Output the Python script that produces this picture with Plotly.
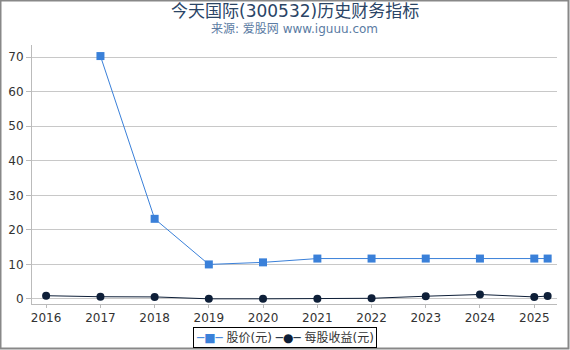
import plotly.graph_objects as go

dates_price = ["2017-01-01", "2018-01-01", "2019-01-01", "2020-01-01", "2021-01-01",
               "2022-01-01", "2023-01-01", "2024-01-01", "2025-01-01", "2025-04-01"]
price = [70.3, 23.2, 10.0, 10.6, 11.7, 11.7, 11.7, 11.7, 11.7, 11.7]

dates_eps = ["2016-01-01", "2017-01-01", "2018-01-01", "2019-01-01", "2020-01-01", "2021-01-01",
             "2022-01-01", "2023-01-01", "2024-01-01", "2025-01-01", "2025-04-01"]
eps = [0.95, 0.65, 0.6, 0.05, 0.05, 0.1, 0.2, 0.8, 1.3, 0.6, 0.85]

series_names = ["股价(元)", "每股收益(元)"]
series_colors = ["#3a80d9", "#0e1f38"]

font = "DejaVu Sans, Noto Sans CJK SC, sans-serif"

fig = go.Figure()
fig.add_trace(go.Scatter(x=dates_price, y=price, name=series_names[0], mode="lines+markers",
                         line=dict(color=series_colors[0], width=1),
                         marker=dict(symbol="square", size=8, color=series_colors[0])))
fig.add_trace(go.Scatter(x=dates_eps, y=eps, name=series_names[1], mode="lines+markers",
                         line=dict(color=series_colors[1], width=1),
                         marker=dict(symbol="circle", size=8, color=series_colors[1])))

W, H = 570, 350
l, r, t, b = 32, 13, 45, 46
pw, ph = W - l - r, H - t - b
y0px = H - b  # pixel row of paper y=0

def py(px):
    return (y0px - px) / ph

legend_text = (f"<span style='color:{series_colors[0]}'>─■─</span> {series_names[0]} "
               f"<span style='color:{series_colors[1]}'>─●─</span> {series_names[1]}")

fig.update_layout(
    width=W, height=H,
    margin=dict(l=l, r=r, t=t, b=b, autoexpand=False),
    paper_bgcolor="white", plot_bgcolor="white",
    font=dict(family=font, size=12, color="#333333"),
    showlegend=False,
    annotations=[
        dict(text="今天国际(300532)历史财务指标", x=0.5, xref="paper", y=py(11),
             yref="paper", showarrow=False, font=dict(size=17, color="#2a4466"),
             xanchor="center", yanchor="middle"),
        dict(text="来源: 爱股网 www.iguuu.com", x=0.5, xref="paper", y=py(29),
             yref="paper", showarrow=False, font=dict(size=12, color="#5b7ba3"),
             xanchor="center", yanchor="middle"),
        dict(text=legend_text, x=(285 - l) / pw, xref="paper", y=py(337.5), yref="paper",
             showarrow=False, font=dict(size=12, color="#333333"),
             xanchor="center", yanchor="middle",
             bordercolor="#000000", borderwidth=1, borderpad=2, bgcolor="white"),
    ],
    shapes=[dict(type="rect", xref="paper", yref="paper",
                 x0=(0.5 - l) / pw, x1=(W - 1.5 - l) / pw,
                 y0=py(H - 1.5), y1=py(0.5),
                 line=dict(color="#888888", width=2), layer="below")],
)
fig.update_xaxes(type="date", range=["2015-09-28", "2025-06-03"], dtick="M12",
                 tickformat="%Y", showgrid=False, showline=True, linecolor="#bbbbbb",
                 ticks="outside", ticklen=3, tickcolor="#bbbbbb", zeroline=False,
                 tickfont=dict(size=12, color="#333333"))
fig.update_yaxes(range=[-1.45, 73.5], dtick=10, showgrid=True, gridcolor="#c8c8c8",
                 showline=True, linecolor="#bbbbbb", ticks="outside", ticklen=5,
                 tickcolor="#bbbbbb", zeroline=False, tickfont=dict(size=12, color="#333333"))

fig.write_html("out.html")
